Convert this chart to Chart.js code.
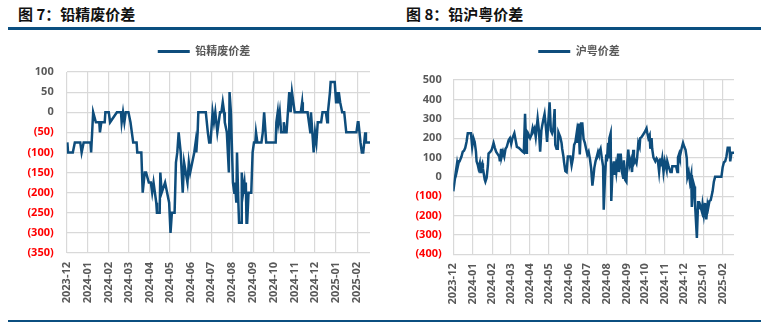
<!DOCTYPE html>
<html>
<head>
<meta charset="utf-8">
<script src="https://cdn.jsdelivr.net/npm/chart.js@4/dist/chart.umd.min.js"></script>
<style>
  html, body { margin: 0; padding: 0; background: #fff; }
  #page { position: relative; width: 775px; height: 322px; overflow: hidden; background: #fff; }
  .title { position: absolute; top: 5px; font: 700 15px/18px "Noto Sans CJK SC", sans-serif; color: #111; white-space: pre; }
  .rule { position: absolute; left: 8px; width: 753px; background: #0b4f80; }
  .box { position: absolute; top: 30px; height: 290px; }
  canvas { display: block; }
</style>
</head>
<body>
<div id="page">
  <div class="title" id="title1" style="left:18px"></div>
  <div class="title" id="title2" style="left:406px"></div>
  <div class="rule" style="top:27px;height:3px"></div>
  <div class="rule" style="top:320px;height:2px"></div>
  <div class="box" style="left:0;width:390px"><canvas id="chart1" width="390" height="290"></canvas></div>
  <div class="box" style="left:390px;width:385px"><canvas id="chart2" width="385" height="290"></canvas></div>
</div>
<script>
// Titles and series names
const title1 = '图 7：铅精废价差';
const title2 = '图 8：铅沪粤价差';
const scrapLabel = '铅精废价差';
const regionLabel = '沪粤价差';

// Month ticks on the date axis
const monthTicks = ['2023-12', '2024-01', '2024-02', '2024-03', '2024-04', '2024-05', '2024-06',
  '2024-07', '2024-08', '2024-09', '2024-10', '2024-11', '2024-12', '2025-01', '2025-02'];

// Value-axis ticks
const scrapTicks = [100, 50, 0, -50, -100, -150, -200, -250, -300, -350];
const regionTicks = [500, 400, 300, 200, 100, 0, -100, -200, -300, -400];

// 铅精废价差 (yuan/t)
const scrapDates = [
  '2023-12-02','2023-12-03','2023-12-10','2023-12-13','2023-12-21','2023-12-23','2023-12-26',
  '2024-01-05','2024-01-06','2024-01-09','2024-01-13','2024-01-18','2024-01-19','2024-01-21','2024-01-26','2024-01-27',
  '2024-02-01','2024-02-03','2024-02-13','2024-02-19','2024-02-20','2024-02-22','2024-02-24','2024-02-26',
  '2024-03-01','2024-03-04','2024-03-06','2024-03-08','2024-03-13','2024-03-14','2024-03-20','2024-03-22','2024-03-25','2024-03-27','2024-03-31',
  '2024-04-03','2024-04-05','2024-04-07','2024-04-09','2024-04-11','2024-04-12','2024-04-16','2024-04-17','2024-04-19','2024-04-24','2024-04-27','2024-04-30',
  '2024-05-02','2024-05-04','2024-05-08','2024-05-10','2024-05-12','2024-05-14','2024-05-17','2024-05-20','2024-05-22','2024-05-27','2024-05-29','2024-05-31',
  '2024-06-03','2024-06-06','2024-06-08','2024-06-09','2024-06-11','2024-06-12','2024-06-23','2024-06-26','2024-06-28','2024-06-30',
  '2024-07-03','2024-07-05','2024-07-07','2024-07-08','2024-07-10','2024-07-14','2024-07-16','2024-07-18','2024-07-20','2024-07-21','2024-07-24','2024-07-27','2024-07-28','2024-07-30',
  '2024-08-02','2024-08-04','2024-08-05','2024-08-07','2024-08-08','2024-08-10','2024-08-11','2024-08-14','2024-08-15','2024-08-17','2024-08-19','2024-08-20','2024-08-21','2024-08-22','2024-08-23','2024-08-25','2024-08-29','2024-08-31',
  '2024-09-02','2024-09-04','2024-09-05','2024-09-07','2024-09-13','2024-09-15','2024-09-17','2024-09-20',
  '2024-10-04','2024-10-05','2024-10-07','2024-10-08','2024-10-10','2024-10-12','2024-10-15','2024-10-16','2024-10-18','2024-10-20','2024-10-22','2024-10-24','2024-10-26','2024-10-28','2024-10-30',
  '2024-11-01','2024-11-10','2024-11-12','2024-11-13','2024-11-20','2024-11-22','2024-11-24','2024-11-25','2024-11-27','2024-11-29',
  '2024-12-01','2024-12-03','2024-12-05','2024-12-10','2024-12-12','2024-12-17','2024-12-19','2024-12-20','2024-12-23','2024-12-24','2024-12-30',
  '2025-01-01','2025-01-02','2025-01-04','2025-01-05','2025-01-07','2025-01-10','2025-01-13','2025-01-16','2025-01-31',
  '2025-02-02','2025-02-03','2025-02-06','2025-02-08','2025-02-10','2025-02-13','2025-02-14','2025-02-20'
];
const scrapSpread = [
  -75, -100, -100, -75, -75, -100, -75,
  -75, -100, 0, -25, -25, -50, -25, -25, 0,
  0, -25, 0, 0, -25, 0, -25, 0,
  0, -25, -50, -75, -75, -100, -100, -200, -150, -150, -175,
  -175, -200, -175, -200, -225, -250, -250, -150, -200, -175, -200, -225,
  -300, -250, -250, -125, -100, -50, -100, -200, -125, -175, -125, -150,
  -125, -100, -75, -100, -50, 0, 0, -50, -75, -75,
  0, -25, 0, 0, -50, 0, 0, 25, 0, -25, -50, -150, 50, 0,
  -175, -200, -175, -225, -100, -225, -275, -275, -150, -200, -175, -200, -175, -275, -275, -200, -200, -100,
  -75, -75, -50, -75, -75, -50, 0, -75,
  -75, -25, 0, -25, 0, -50, -50, -25, -50, -50, 0, 50, 0, 50, 25,
  0, 0, 25, 0, 0, -25, -50, 0, -50, -100,
  -50, -75, -25, -25, 0, 0, -25, 0, 50, 75, 75,
  25, 50, 25, 50, 25, 0, 0, -50, -50,
  -25, -25, -75, -100, -100, -50, -75, -75
];

// 沪粤价差 (yuan/t)
const regionDates = [
  '2023-12-01','2023-12-03','2023-12-05','2023-12-07','2023-12-08','2023-12-10','2023-12-11','2023-12-14','2023-12-16','2023-12-18','2023-12-20','2023-12-22','2023-12-24','2023-12-26','2023-12-29','2023-12-31',
  '2024-01-02','2024-01-04','2024-01-06','2024-01-07','2024-01-09','2024-01-10','2024-01-12','2024-01-13','2024-01-14','2024-01-16','2024-01-17','2024-01-20','2024-01-21','2024-01-23','2024-01-25','2024-01-26','2024-01-29','2024-01-31',
  '2024-02-03','2024-02-05','2024-02-07','2024-02-10','2024-02-12','2024-02-13','2024-02-15','2024-02-16','2024-02-18','2024-02-20','2024-02-22','2024-02-24','2024-02-27','2024-02-29',
  '2024-03-02','2024-03-04','2024-03-07','2024-03-09','2024-03-11','2024-03-14','2024-03-17','2024-03-20','2024-03-22','2024-03-24','2024-03-26','2024-03-27','2024-03-29','2024-03-30',
  '2024-04-01','2024-04-03','2024-04-05','2024-04-06','2024-04-08','2024-04-10','2024-04-13','2024-04-15','2024-04-17','2024-04-19','2024-04-20','2024-04-22','2024-04-24','2024-04-26','2024-04-28','2024-04-30',
  '2024-05-02','2024-05-04','2024-05-06','2024-05-08','2024-05-10','2024-05-11','2024-05-13','2024-05-15','2024-05-16','2024-05-19','2024-05-21','2024-05-22','2024-05-24','2024-05-25','2024-05-27','2024-05-29','2024-05-31',
  '2024-06-02','2024-06-04','2024-06-06','2024-06-08','2024-06-10','2024-06-12','2024-06-14','2024-06-15','2024-06-17','2024-06-19','2024-06-21','2024-06-23','2024-06-25','2024-06-27','2024-06-29',
  '2024-07-01','2024-07-03','2024-07-05','2024-07-07','2024-07-09','2024-07-11','2024-07-12','2024-07-14','2024-07-16','2024-07-18','2024-07-19','2024-07-22','2024-07-24','2024-07-26','2024-07-27','2024-07-29','2024-07-31',
  '2024-08-01','2024-08-03','2024-08-04','2024-08-05','2024-08-07','2024-08-08','2024-08-10','2024-08-12','2024-08-13','2024-08-15','2024-08-16','2024-08-19','2024-08-20','2024-08-22','2024-08-23','2024-08-25','2024-08-27','2024-08-28','2024-08-30',
  '2024-09-01','2024-09-02','2024-09-04','2024-09-06','2024-09-08','2024-09-10','2024-09-12','2024-09-13','2024-09-15','2024-09-17','2024-09-18','2024-09-20','2024-09-22','2024-09-23','2024-09-25','2024-09-27','2024-09-30',
  '2024-10-03','2024-10-04','2024-10-06','2024-10-08','2024-10-09','2024-10-11','2024-10-12','2024-10-14','2024-10-17','2024-10-19','2024-10-21','2024-10-23','2024-10-25','2024-10-26','2024-10-28','2024-10-30',
  '2024-11-01','2024-11-04','2024-11-05','2024-11-07','2024-11-10','2024-11-12','2024-11-13','2024-11-19','2024-11-21','2024-11-22','2024-11-24','2024-11-25','2024-11-28','2024-11-30',
  '2024-12-02','2024-12-04','2024-12-06','2024-12-07','2024-12-09','2024-12-11','2024-12-13','2024-12-14','2024-12-16','2024-12-18','2024-12-19','2024-12-22','2024-12-24','2024-12-25','2024-12-27','2024-12-30','2024-12-31',
  '2025-01-02','2025-01-04','2025-01-06','2025-01-08','2025-01-09','2025-01-11','2025-01-13','2025-01-16','2025-01-18','2025-01-20','2025-01-30',
  '2025-02-01','2025-02-03','2025-02-05','2025-02-07','2025-02-09','2025-02-12','2025-02-13','2025-02-15','2025-02-19'
];
const regionSpread = [
  -75, -25, 25, 70, 50, 80, 80, 105, 130, 135, 150, 180, 225, 225, 225, 155,
  200, 180, 130, 80, 60, 45, 70, 25, 55, 70, 45, -15, -25, -5, 60, 120, 130, 140,
  175, 150, 130, 115, 105, 80, 145, 105, 130, 105, 145, 155, 190, 200,
  170, 200, 225, 190, 155, 150, 140, 130, 125, 325, 125, 225, 205, 215,
  200, 215, 250, 235, 250, 205, 300, 240, 130, 240, 260, 295, 325, 260, 180, 285,
  385, 240, 225, 250, 350, 165, 145, 145, 230, 205, 175, 145, 105, 75, 30, 25, 105,
  105, 105, 60, 95, 165, 180, 225, 175, 275, 115, 275, 275, 195, 175, 145,
  115, 130, 95, 45, -45, 10, 45, 80, 105, 130, 120, 145, 95, 55, -170, -5, 115,
  80, 175, 95, 200, 225, -125, 35, 80, 10, 55, 25, 120, 25, 85, 120, 25, -5, 85, -15,
  -25, 55, 140, 60, 85, 25, 140, 70, 85, 70, 95, 175, 155, 200, 205, 215, 230,
  250, 230, 200, 215, 145, 200, 145, 100, 80, 95, 85, 25, 95, 55, 95, 25,
  80, 35, 80, 55, 25, 25, 55, 55, 25, 100, 120, 105, 150, 175,
  155, 140, 95, 0, 25, -25, 10, -155, -25, -50, -135, -315, -125, -160, -145, -180, -145,
  -195, -135, -220, -145, -160, -125, -120, -75, -25, 0, 0,
  50, 75, 80, 105, 150, 150, 80, 125, 125
];

// Day offsets on a linear date axis
const DAY_MS = 86400000;
const AXIS_START = monthTicks[0] + '-01';
function dayOf(s) {
  const [y, m, d] = s.split('-').map(Number);
  const [y0, m0, d0] = AXIS_START.split('-').map(Number);
  return (Date.UTC(y, m - 1, d) - Date.UTC(y0, m0 - 1, d0)) / DAY_MS;
}
const monthDays = monthTicks.map(m => dayOf(m + '-01'));

const LINE_COLOR = '#0e4d7c';
const GRID_COLOR = '#d9d9d9';
const TEXT_GRAY = '#595959';
const FONT = "'Open Sans', 'Noto Sans CJK SC', sans-serif";

document.getElementById('title1').textContent = title1;
document.getElementById('title2').textContent = title2;

// Slides the legend row sideways after layout
const legendShift = {
  id: 'legendShift',
  afterLayout(chart, args, opts) {
    const lg = chart.legend;
    if (lg) { lg.left += opts.dx; lg.right += opts.dx; }
  }
};

function buildChart(canvasId, label, dates, values, yTicks, lay) {
  const points = dates.map((d, i) => ({ x: dayOf(d), y: values[i] }));
  const step = yTicks[0] - yTicks[1];
  return new Chart(document.getElementById(canvasId), {
    type: 'line',
    plugins: [legendShift],
    data: {
      datasets: [{
        label: label,
        data: points,
        xAxisID: 'x',
        yAxisID: 'y',
        borderColor: LINE_COLOR,
        backgroundColor: LINE_COLOR,
        borderWidth: 2.5,
        pointRadius: 0,
        tension: 0,
        fill: false
      }]
    },
    options: {
      responsive: false,
      animation: false,
      events: [],
      layout: { padding: { left: 0, right: lay.padR, top: lay.padT, bottom: 0 } },
      plugins: {
        tooltip: { enabled: false },
        legendShift: { dx: lay.legendDx },
        legend: {
          position: 'top',
          labels: {
            boxWidth: 32,
            boxHeight: 3,
            padding: 10,
            color: TEXT_GRAY,
            font: { family: FONT, size: 11, weight: 'bold' },
            generateLabels: chart => chart.data.datasets.map((ds, i) => ({
              text: ds.label,
              fillStyle: ds.borderColor,
              strokeStyle: ds.borderColor,
              lineWidth: 0,
              hidden: false,
              fontColor: TEXT_GRAY,
              datasetIndex: i
            }))
          }
        }
      },
      scales: {
        x: {
          type: 'linear',
          min: 0,
          max: Math.max(...points.map(p => p.x)),
          border: { display: false },
          grid: { color: GRID_COLOR, lineWidth: 1.2, drawTicks: false },
          afterBuildTicks: s => { s.ticks = monthDays.map(v => ({ value: v })); },
          afterFit: s => { s.height = lay.xH; },
          ticks: {
            autoSkip: false,
            minRotation: 90,
            maxRotation: 90,
            padding: 9,
            color: TEXT_GRAY,
            font: { family: FONT, size: 11, weight: 'bold' },
            callback: v => monthTicks[monthDays.indexOf(v)]
          }
        },
        y: {
          type: 'linear',
          min: Math.min(...yTicks),
          max: Math.max(...yTicks),
          border: { display: false },
          grid: { color: GRID_COLOR, lineWidth: 1.2, drawTicks: false },
          afterFit: s => { s.width = lay.yW; },
          ticks: {
            stepSize: step,
            padding: lay.yPad,
            color: ctx => (ctx.tick && ctx.tick.value < 0 ? '#ff0000' : TEXT_GRAY),
            font: { family: FONT, size: 11, weight: 'bold' },
            callback: v => (v < 0 ? '(' + Math.abs(v) + ')' : String(v))
          }
        },
        gap: {
          axis: 'x',
          type: 'linear',
          position: 'top',
          display: true,
          grid: { display: false },
          border: { display: false },
          ticks: { display: false },
          afterFit: s => { s.height = lay.gap; }
        }
      }
    }
  });
}

buildChart('chart1', scrapLabel, scrapDates, scrapSpread, scrapTicks,
  { padR: 20, padT: 6, gap: 5, xH: 67, yW: 66.7, yPad: 13, legendDx: 19 });
buildChart('chart2', regionLabel, regionDates, regionSpread, regionTicks,
  { padR: 41, padT: 6, gap: 13, xH: 65.7, yW: 63.3, yPad: 11.6, legendDx: 17 });
</script>
</body>
</html>
